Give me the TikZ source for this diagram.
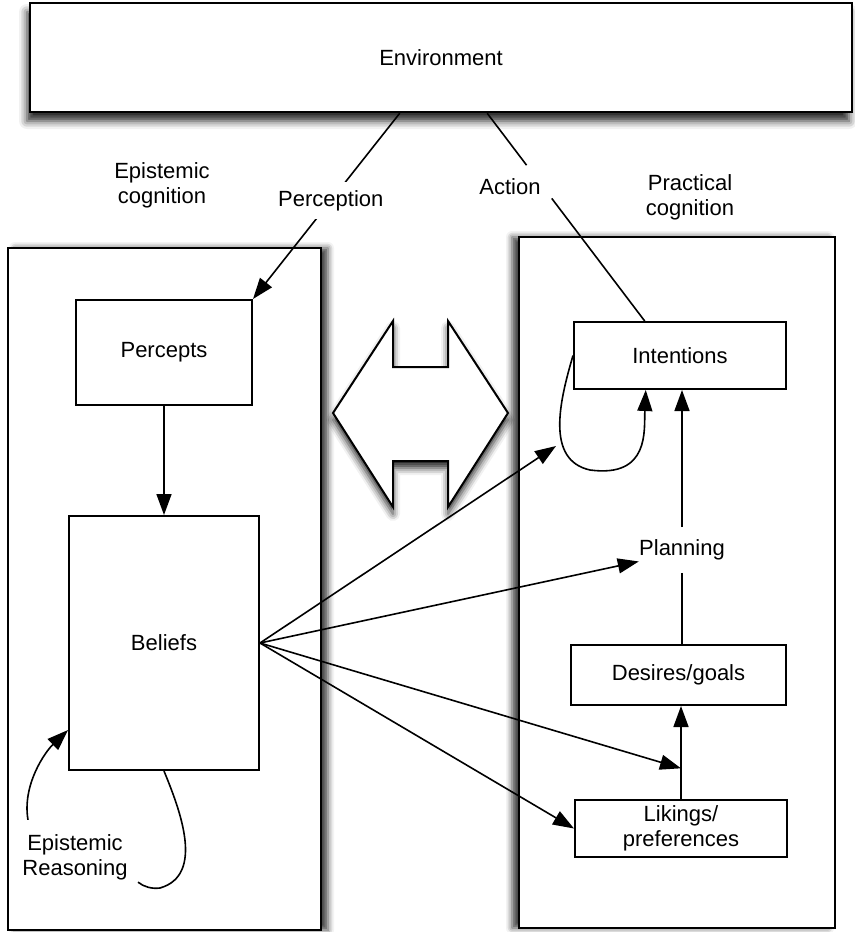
\documentclass[tikz,border=0pt]{standalone}
\usepackage{fontspec}
\setmainfont{Liberation Sans}
\usetikzlibrary{arrows.meta, positioning, calc, shadows.blur}

\begin{document}
\begin{tikzpicture}[
    x=0.5pt, y=-0.5pt,
    font=\fontsize{11}{12.5}\selectfont,
    box/.style={rectangle, draw, line width=1pt, fill=white, inner sep=1pt, align=center},
    panel/.style={rectangle, draw, line width=1.2pt, fill=white},
    arrow/.style={-{Triangle[length=10.5pt, width=7.5pt, fill=black]}, line width=0.8pt},
    link/.style={line width=0.8pt},
    lbl/.style={align=center, inner sep=2pt}
]
\useasboundingbox (0,0) rectangle (855,932);
% environment and the two cognition panels
\node[panel, minimum width=411pt, minimum height=54.5pt,
      blur shadow={shadow xshift=-1.5pt, shadow yshift=-4.5pt, shadow blur radius=4pt, shadow opacity=85}] (env) at (441,57.5) {Environment};
\node[panel, minimum width=156.5pt, minimum height=341pt,
      blur shadow={shadow xshift=3.5pt, shadow yshift=0pt, shadow blur radius=3pt, shadow opacity=75}] (leftbox) at (164.5,589) {};
\node[panel, minimum width=158pt, minimum height=345.5pt,
      blur shadow={shadow xshift=-3.5pt, shadow yshift=0pt, shadow blur radius=3pt, shadow opacity=75}] (rightbox) at (677,582.5) {};
\node[lbl] (epist) at (162,185) {Epistemic\\cognition};
\node[lbl] (pract) at (690,197) {Practical\\cognition};

% two-headed arrow between the panels
\draw[line width=1pt, fill=white, line join=miter,
      blur shadow={shadow xshift=0pt, shadow yshift=-3.5pt, shadow blur radius=3.5pt, shadow opacity=85}]
  (333,413) -- (393,321) -- (393,367) -- (448,367) -- (448,321) -- (508,413)
  -- (448,507) -- (448,461) -- (393,461) -- (393,507) -- cycle;

% epistemic side
\node[box, minimum width=88pt, minimum height=52.5pt] (percepts) at (164,352.5) {Percepts};
\node[box, minimum width=95pt, minimum height=127pt, below=54.5pt of percepts] (beliefs) {Beliefs};
\node[lbl] (reason) at (75,857) {Epistemic\\Reasoning};

% practical side
\node[box, minimum width=106pt, minimum height=33.5pt] (intentions) at (680,355.5) {Intentions};
\node[lbl, inner xsep=0pt, minimum height=22.5pt] (planning) at (682,550) {Planning};
\node[box, minimum width=107.5pt, minimum height=30pt] (desires) at (678.5,675) {Desires/goals};
\node[box, minimum width=106pt, minimum height=28.5pt] (likings) at (681,828.5) {Likings/\\preferences};

% perception and action
\coordinate (percenv) at ($(env.south west)!0.45!(env.south east)$);
\coordinate (actenv) at ($(env.south west)!0.556!(env.south east)$);
\coordinate (actint) at ($(intentions.north west)!0.335!(intentions.north east)$);
\draw[arrow] (percenv) -- node[lbl, fill=white, inner sep=4pt, pos=0.47] (perception) {Perception} (percepts.north east);
\draw[link] (actenv) -- ($(actenv)!0.25!(actint)$);
\draw[link] ($(actenv)!0.41!(actint)$) -- (actint);
\node[lbl] (action) at (510,187) {Action};

% inside the panels
\draw[arrow] (percepts) -- (beliefs);
\draw[arrow] (planning.north) -- (planning.north |- intentions.south);
\draw[link] (planning.south) -- (planning.south |- desires.north);
\draw[arrow] (likings.north) -- (likings.north |- desires.south);

% from beliefs to the practical side
\coordinate (loopin) at (556,446);
\coordinate (lkmid) at ($(likings.north)!0.33!(likings.north |- desires.south)$);
\draw[arrow] (beliefs.east) -- (loopin);
\draw[arrow] (beliefs.east) -- ($(planning.west)!0.5!(planning.south west)$);
\draw[arrow] (beliefs.east) -- (lkmid);
\draw[arrow] (beliefs.east) -- (likings.west);

% loops
\draw[arrow] (intentions.west) .. controls (560,400) and (545,460) .. (590,470)
  .. controls (650,478) and (644,430) .. ($(intentions.south west)!0.34!(intentions.south east)$);
\draw[arrow] ($(reason.north west)+(10,-10)$) .. controls (22,785) and (45,752) .. ($(beliefs.south west)!0.16!(beliefs.north west)$);
\draw[link] (beliefs.south) .. controls (180,810) and (205,875) .. (160,888)
  .. controls (152,889) and (144,887) .. ($(reason.south east)+(6,-2)$);
\end{tikzpicture}
\end{document}
